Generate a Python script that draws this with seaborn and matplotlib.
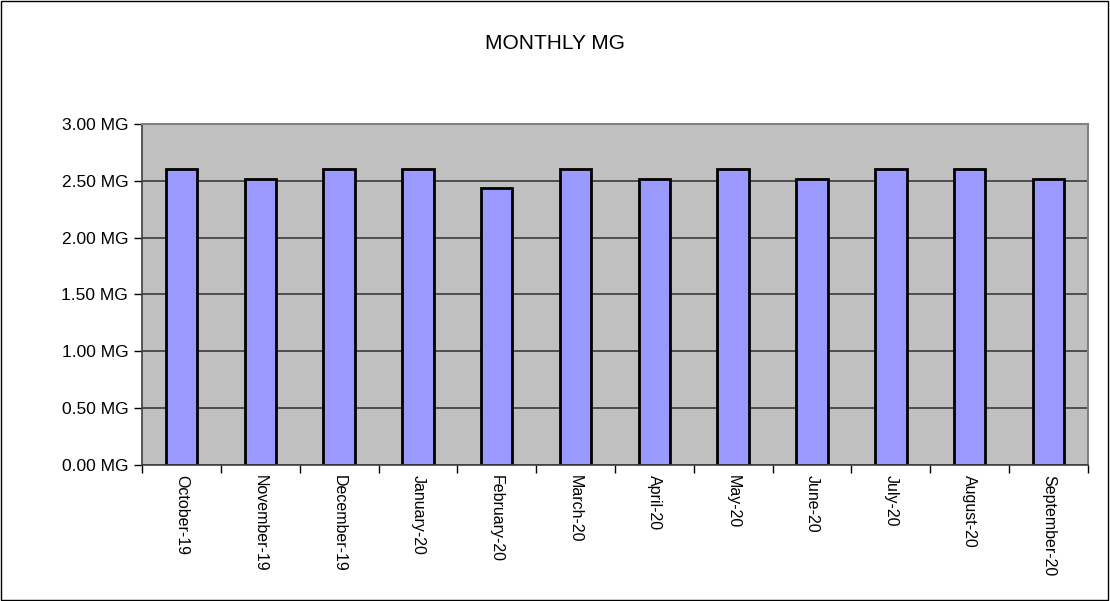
import numpy as np
import pandas as pd
import matplotlib
matplotlib.use("Agg")
import matplotlib.pyplot as plt
from matplotlib.patches import Rectangle
import seaborn as sns

months = ["October-19", "November-19", "December-19", "January-20", "February-20",
          "March-20", "April-20", "May-20", "June-20", "July-20", "August-20",
          "September-20"]
mg_values = [2.60, 2.52, 2.60, 2.60, 2.44, 2.60, 2.52, 2.60, 2.52, 2.60, 2.60, 2.52]
y_ticks = [0.0, 0.5, 1.0, 1.5, 2.0, 2.5, 3.0]

df = pd.DataFrame({"month": months, "mg": mg_values})

sns.set_style("white")
plt.rcParams["font.family"] = ["Liberation Sans", "DejaVu Sans"]
plt.rcParams["text.color"] = "black"
plt.rcParams["xtick.color"] = "black"
plt.rcParams["ytick.color"] = "black"

fig = plt.figure(figsize=(11.1, 6.01), dpi=100)
ax = fig.add_axes([0.128, 0.2263, 0.852, 0.5674])

ax.set_facecolor("#C0C0C0")
ax.set_axisbelow(True)
ax.yaxis.grid(True, color="#3a3a3a", linewidth=1.2)
ax.xaxis.grid(False)

sns.barplot(data=df, x="month", y="mg", color="#9999FF", saturation=1,
            edgecolor="black", linewidth=2.0, width=0.40, ax=ax)

ax.set_ylim(0, 3.0)
ax.set_xlim(-0.5, len(months) - 0.5)
ax.set_yticks(y_ticks)
ax.set_yticklabels([f"{v:.2f} MG" for v in y_ticks], fontsize=12.5)
ax.set_xticks(range(len(months)))
ax.set_xticklabels(months, fontsize=11.5, rotation=270, ha="center", va="top")
ax.set_xticks(np.arange(-0.5, len(months)), minor=True)
ax.tick_params(axis="x", which="major", bottom=True, length=0, pad=7)
ax.tick_params(axis="x", which="minor", bottom=True, length=6, width=1,
               color="black", direction="out")
ax.tick_params(axis="y", left=True, length=6, width=1, color="black",
               direction="out", pad=4)
ax.set_xlabel("")
ax.set_ylabel("")

for side in ["top", "right"]:
    ax.spines[side].set_color("#808080")
    ax.spines[side].set_linewidth(1.5)
for side in ["left", "bottom"]:
    ax.spines[side].set_color("#404040")
    ax.spines[side].set_linewidth(1.2)

fig.text(0.5, 0.928, "MONTHLY MG", ha="center", va="center", fontsize=15,
         color="black")

fig.patches.append(Rectangle((0.001, 0.001), 0.997, 0.997, transform=fig.transFigure,
                             fill=False, edgecolor="black", linewidth=1))

fig.savefig("out.png", dpi=100)
